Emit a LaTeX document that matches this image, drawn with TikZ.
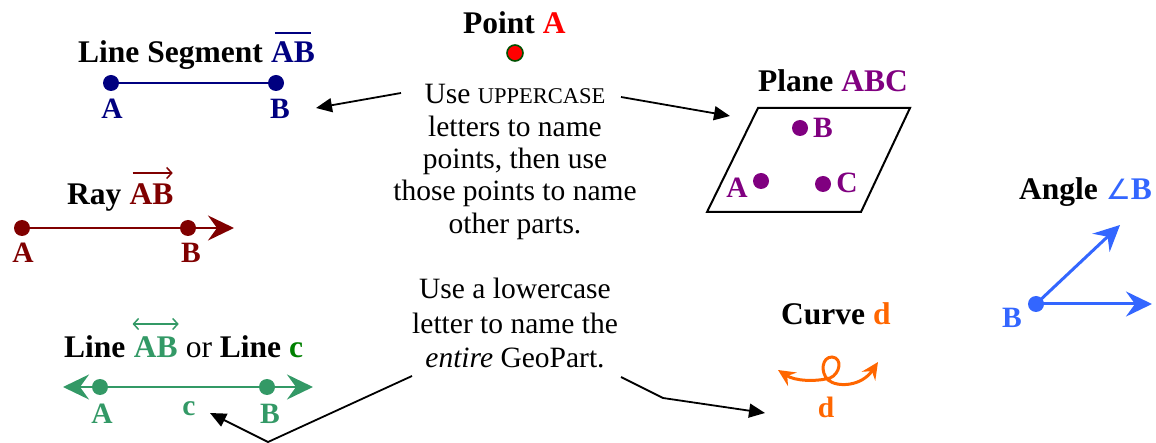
\documentclass[tikz,border=0pt]{standalone}
\usepackage{fontspec}
\setmainfont{Liberation Serif}
\newfontfamily\djv{DejaVu Sans}
\usetikzlibrary{arrows.meta}
\definecolor{segcol}{HTML}{000080}
\definecolor{raycol}{HTML}{800000}
\definecolor{planecol}{HTML}{800080}
\definecolor{linecol}{HTML}{339966}
\definecolor{linectitle}{HTML}{008000}
\definecolor{curvecol}{HTML}{FF6600}
\definecolor{angcol}{HTML}{3366FF}
\definecolor{ptred}{HTML}{FF0000}
\definecolor{ptgreen}{HTML}{005000}
\tikzset{
  ttl/.style={font=\fontsize{31.5}{36}\selectfont\bfseries, inner sep=0pt, anchor=base west},
  lbl/.style={font=\fontsize{29.5}{33}\selectfont\bfseries, inner sep=0pt, anchor=base},
  dot/.style={circle, fill, inner sep=0pt, minimum size=16pt},
  pointer/.style={draw=black, line width=1.8pt, -{Triangle[length=16pt,width=14pt]}},
  mybig/.tip={Stealth[length=26pt,width=25pt,inset=9pt]},
  mysmall/.tip={Stealth[length=17pt,width=16pt,inset=6pt]},
  mybarb/.tip={Straight Barb[length=5pt,width=11pt]},
  body/.style={inner sep=0pt, align=center},
}
\begin{document}
\begin{tikzpicture}[x=1pt,y=-1pt]
\useasboundingbox (0,0) rectangle (1156,443);

% ---------- Point A ----------
\node[ttl] (ptTitle) at (463,34) {Point \textcolor{ptred}{A}};
\node[circle, fill=ptred, draw=ptgreen, line width=1.6pt, inner sep=0pt, minimum size=16pt] (ptDot) at (515,53) {};

% ---------- Line segment ----------
\node[ttl] (segTitle) at (78,63) {Line Segment};
\node[ttl, segcol] (segTitleAB) at ([xshift=7.9pt]segTitle.base east) {AB};
\draw[segcol, line width=2.5pt] ([xshift=4pt,yshift=9pt]segTitleAB.north west) -- ([xshift=-4pt,yshift=9pt]segTitleAB.north east);
\node[dot, segcol] (segA) at (111,83) {};
\node[dot, segcol] (segB) at (276,83) {};
\draw[segcol, line width=2pt] (segA) -- (segB);
\node[lbl, segcol] (segLA) at (112,119) {A};
\node[lbl, segcol] (segLB) at (280,119) {B};

% ---------- Ray ----------
\node[ttl] (rayTitle) at (67,205) {Ray};
\node[ttl, raycol] (rayTitleAB) at ([xshift=7.9pt]rayTitle.base east) {AB};
\draw[raycol, line width=1.5pt, -{mybarb}] ([xshift=3pt,yshift=11pt]rayTitleAB.north west) -- ([xshift=-1pt,yshift=11pt]rayTitleAB.north east);
\node[dot, raycol] (rayA) at (22,228) {};
\node[dot, raycol] (rayB) at (188,228) {};
\coordinate (rayTip) at (234,228);
\draw[raycol, line width=2.5pt, -{mybig}] (rayA.center) -- (rayTip);
\node[lbl, raycol] (rayLA) at (23,263) {A};
\node[lbl, raycol] (rayLB) at (191,263) {B};

% ---------- Line ----------
\node[ttl] (lnTitle) at (64,358) {Line};
\node[ttl, linecol] (lnTitleAB) at ([xshift=7.9pt]lnTitle.base east) {AB};
\node[ttl] (lnTitleRest) at ([xshift=7.9pt]lnTitleAB.base east) {\mdseries or \bfseries Line \textcolor{linectitle}{c}};
\draw[linecol, line width=1.5pt, {mybarb}-{mybarb}] ([xshift=-1pt,yshift=13pt]lnTitleAB.north west) -- ([xshift=1pt,yshift=13pt]lnTitleAB.north east);
\coordinate (lnL) at (63,387);
\coordinate (lnR) at (313,387);
\draw[linecol, line width=2.5pt, {mybig}-{mybig}] (lnL) -- (lnR);
\node[dot, linecol] (lnA) at (100,387) {};
\node[dot, linecol] (lnB) at (267,387) {};
\node[lbl, linecol] (lnLA) at (102,423) {A};
\node[lbl, linecol] (lnLc) at (189,415) {c};
\node[lbl, linecol] (lnLB) at (270,423) {B};

% ---------- Plane ----------
\node[ttl] (plTitle) at (758,92) {Plane \textcolor{planecol}{ABC}};
\draw[black, line width=2pt] (758,108) -- (910,108) -- (861,212) -- (707,212) -- cycle;
\node[dot, planecol] (plB) at (800,128) {};
\node[dot, planecol] (plA) at (761,181) {};
\node[dot, planecol] (plC) at (823,184) {};
\node[lbl, planecol] (plLB) at (823,138) {B};
\node[lbl, planecol] (plLA) at (737,198) {A};
\node[lbl, planecol] (plLC) at (847,193) {C};

% ---------- Curve ----------
\node[ttl] (cvTitle) at (781,325) {Curve \textcolor{curvecol}{d}};
\coordinate (cvL) at (778,370);
\coordinate (cvR) at (878,362);
\draw[curvecol, line width=3pt, {mysmall}-{mysmall}] (cvL) .. controls (795,381) and (815,382) .. (830,378)
  .. controls (840,374) and (843,358) .. (832,357)
  .. controls (822,357) and (820,372) .. (828,380)
  .. controls (838,388) and (862,386) .. (cvR);
\node[lbl, curvecol] (cvLd) at (826,417) {d};

% ---------- Angle ----------
\node[ttl] (angTitle) at (1019,200) {Angle \textcolor{angcol}{{\djv\mdseries\fontsize{28}{30}\selectfont ∠}B}};
\node[dot, angcol] (angB) at (1036,304) {};
\coordinate (angT1) at (1120,225);
\coordinate (angT2) at (1152,304);
\draw[angcol, line width=3pt, -{mybig}] (angB.center) -- (angT1);
\draw[angcol, line width=3pt, -{mybig}] (angB.center) -- (angT2);
\node[lbl, angcol] (angLB) at (1012,327) {B};

% ---------- Explanatory text ----------
\node[body, font=\fontsize{29.5}{32.3}\selectfont] (txtUpper) at (515,162)
  {Use {\fontsize{22.5}{32.3}\selectfont UPPERCASE}\\letters to name\\points, then use\\those points to name\\other parts.};
\node[body, font=\fontsize{29.5}{34.5}\selectfont] (txtLower) at (515,323)
  {Use a lowercase\\letter to name the\\\textit{entire} GeoPart.};

% ---------- Pointers ----------
\coordinate (p1s) at (401,93);
\coordinate (p1e) at (316,108);
\draw[pointer] (p1s) -- (p1e);
\coordinate (p2s) at (621,97);
\coordinate (p2e) at (730,116);
\draw[pointer] (p2s) -- (p2e);
\coordinate (p3s) at (412,376);
\coordinate (p3m) at (268,442);
\coordinate (p3e) at (210,413);
\draw[pointer] (p3s) -- (p3m) -- (p3e);
\coordinate (p4s) at (621,377);
\coordinate (p4m) at (663,398);
\coordinate (p4e) at (765,413);
\draw[pointer] (p4s) -- (p4m) -- (p4e);
\end{tikzpicture}
\end{document}
